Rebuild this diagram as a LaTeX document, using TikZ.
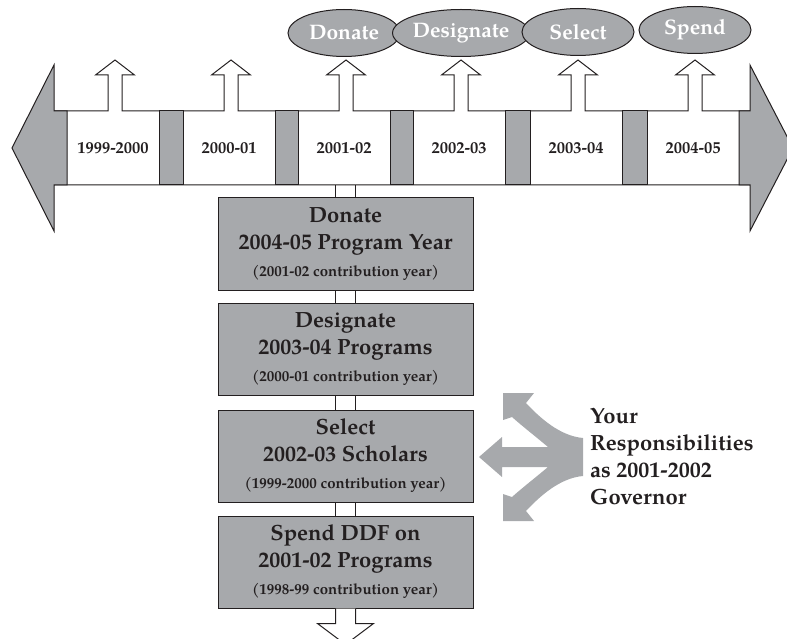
\documentclass[tikz,border=0pt]{standalone}
\usepackage{fontspec}
\setmainfont{texgyrepagella}[Extension=.otf, UprightFont=*-regular, BoldFont=*-bold, ItalicFont=*-italic, BoldItalicFont=*-bolditalic]
\usetikzlibrary{shapes.geometric}
\definecolor{boxgray}{HTML}{A7A9AC}
\definecolor{linec}{HTML}{231F20}
\definecolor{armgray}{HTML}{A7A9AC}
\newcommand{\subline}[1]{{\bfseries\fontsize{15}{27}\selectfont #1}}
\begin{document}
\begin{tikzpicture}[x=1pt,y=-1pt, line join=miter,
  outl/.style={draw=linec, line width=1pt},
  cell/.style={inner sep=0pt, text=linec, font=\bfseries\fontsize{16.5}{19}\selectfont},
  oval/.style={ellipse, outl, fill=boxgray, minimum width=112pt, minimum height=47pt, inner sep=0pt, text=white, font=\bfseries\fontsize{21}{24}\selectfont},
  stepbox/.style={rectangle, outl, fill=boxgray, minimum width=255pt, minimum height=92pt, inner sep=0pt, align=center, text=linec, font=\bfseries\fontsize{22}{27}\selectfont}
]
\useasboundingbox (0,0) rectangle (787,639);
\clip (0,0) rectangle (787,639);

% timeline band with up arrows
\filldraw[outl, fill=white] (54,111)
  \foreach \c in {115,231,346,461,578,695} {
    -- (\c-7,111) -- (\c-7,75) -- (\c-19.5,75) -- (\c,60) -- (\c+19.5,75) -- (\c+7,75) -- (\c+7,111)
  } -- (750,111) -- (750,185) -- (54,185) -- cycle;
\coordinate (bb) at (346,185);

% arrowheads of the band
\filldraw[outl, fill=boxgray] (12,148) -- (54,65) -- (54,111) -- (67,111) -- (67,185) -- (54,185) -- (54,231) -- cycle;
\filldraw[outl, fill=boxgray] (793,148) -- (750,65) -- (750,111) -- (739,111) -- (739,185) -- (750,185) -- (750,231) -- cycle;

% gaps between cells
\foreach \a/\b in {159/183, 275/298, 390/413, 505/530, 622/647}
  \filldraw[outl, fill=boxgray] (\a,111) rectangle (\b,185);

% year labels
\node[cell] (y1) at (113,148) {1999-2000};
\node[cell] (y2) at (229,148) {2000-01};
\node[cell] (y3) at (344,148) {2001-02};
\node[cell] (y4) at (459,148) {2002-03};
\node[cell] (y5) at (576,148) {2003-04};
\node[cell] (y6) at (693,148) {2004-05};

% ovals
\node[oval] (o1) at (344,33) {Donate};
\node[oval] (o2) at (461,33) {Designate};
\node[oval] (o3) at (578,32) {Select};
\node[oval] (o4) at (695,30) {Spend};

% boxes
\node[stepbox] (d1) at (345.5,244) {Donate\\2004-05 Program Year\\\subline{(2001-02 contribution year)}};
\node[stepbox] (d2) at (345.5,349) {Designate\\2003-04 Programs\\\subline{(2000-01 contribution year)}};
\node[stepbox] (d3) at (345.5,456) {Select\\2002-03 Scholars\\\subline{(1999-2000 contribution year)}};
\node[stepbox] (d4) at (345.5,562) {Spend DDF on\\2001-02 Programs\\\subline{(1998-99 contribution year)}};

% double-line connectors
\foreach \s in {-10,10} {
  \draw[outl] ([xshift=\s pt]d1.north) -- ([xshift=\s pt]d1.north |- bb);
  \draw[outl] ([xshift=\s pt]d1.south) -- ([xshift=\s pt]d2.north);
  \draw[outl] ([xshift=\s pt]d2.south) -- ([xshift=\s pt]d3.north);
  \draw[outl] ([xshift=\s pt]d3.south) -- ([xshift=\s pt]d4.north);
}
% hollow arrow down
\coordinate (dn) at (d4.south);
\filldraw[outl, fill=white] ([xshift=-10pt]dn) -- ++(0,15) -- ++(-18,0) -- ++(28,21) -- ++(28,-21) -- ++(-18,0) -- ([xshift=10pt]dn);

% three-way grey arrow
\fill[armgray] (479,457) -- (502,437) -- (502,447) -- (548,447)
  .. controls (535,436) and (522,426) .. (512,417) -- (503,420) -- (503,393) -- (534,393) -- (526,403)
  .. controls (540,418) and (560,436) .. (583,438) -- (583,476)
  .. controls (560,478) and (540,496) .. (526,511) -- (534,521) -- (503,521) -- (503,494) -- (512,497)
  .. controls (522,488) and (535,478) .. (548,467) -- (502,467) -- (502,477) -- cycle;

\node[anchor=west, align=left, text=linec, font=\bfseries\fontsize{22}{27}\selectfont, inner sep=0pt] (resp) at (590,457) {Your\\Responsibilities\\as 2001-2002\\Governor};
\end{tikzpicture}
\end{document}
